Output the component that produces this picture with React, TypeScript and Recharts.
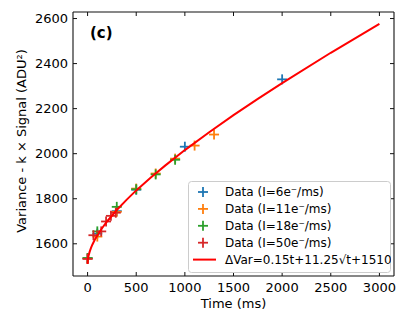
import { ScatterChart, Scatter, XAxis, YAxis, Legend } from 'recharts';

const FONT = '"DejaVu Sans", sans-serif';

// measured points, one list per illumination level
const times6 = [0, 100, 300, 500, 1000, 2000];
const var6 = [1535, 1645, 1745, 1840, 2031, 2330];

const times11 = [0, 100, 300, 500, 700, 900, 1100, 1300];
const var11 = [1535, 1632, 1742, 1845, 1912, 1978, 2036, 2085];

const times18 = [0, 100, 300, 500, 700, 900];
const var18 = [1537, 1655, 1764, 1842, 1908, 1973];

const times50 = [0, 60, 140, 190, 240, 290];
const var50 = [1533, 1638, 1655, 1699, 1724, 1738];

// fitted curve
const fitTimes = [0, 2, 5, 10, 20, 35, 50, 75, 100, 150, 200, 300, 400, 500, 650, 800, 1000, 1250, 1500, 1750, 2000, 2500, 3000];
const fitVar = [1510, 1526, 1536, 1547, 1563, 1582, 1597, 1619, 1637, 1670, 1699, 1750, 1795, 1837, 1894, 1948, 2016, 2095, 2171, 2243, 2313, 2448, 2576];

const xTicks = [0, 500, 1000, 1500, 2000, 2500, 3000];
const yTicks = [1600, 1800, 2000, 2200, 2400, 2600];

const series = [
  { name: 'Data (I=6e\u207B/ms)', color: '#1f77b4', t: times6, v: var6 },
  { name: 'Data (I=11e\u207B/ms)', color: '#ff7f0e', t: times11, v: var11 },
  { name: 'Data (I=18e\u207B/ms)', color: '#2ca02c', t: times18, v: var18 },
  { name: 'Data (I=50e\u207B/ms)', color: '#d62728', t: times50, v: var50 },
];
const fitName = 'ΔVar=0.15t+11.25√t+1510';

const toPoints = (t: number[], v: number[]) => t.map((x, i) => ({ t: x, v: v[i] }));

const AXIS = '#111';

function Plus(color: string) {
  return (props: any) => {
    const { cx, cy } = props;
    return (
      <g>
        <line x1={cx - 5} x2={cx + 5} y1={cy} y2={cy} stroke={color} strokeWidth={1.8} />
        <line x1={cx} x2={cx} y1={cy - 5} y2={cy + 5} stroke={color} strokeWidth={1.8} />
      </g>
    );
  };
}

const BottomTick = ({ x, y, payload }: any) => (
  <g>
    <line x1={x} x2={x} y1={y} y2={y - 4} stroke={AXIS} />
    <text x={x} y={y + 16} textAnchor="middle" fontSize={13} fontFamily={FONT} fill="#000">
      {payload.value}
    </text>
  </g>
);
const TopTick = ({ x, y }: any) => <line x1={x} x2={x} y1={y} y2={y + 4} stroke={AXIS} />;
const LeftTick = ({ x, y, payload }: any) => (
  <g>
    <line x1={x} x2={x + 4} y1={y} y2={y} stroke={AXIS} />
    <text x={x - 5} y={y + 4.7} textAnchor="end" fontSize={13} fontFamily={FONT} fill="#000">
      {payload.value}
    </text>
  </g>
);
const RightTick = ({ x, y }: any) => <line x1={x} x2={x - 4} y1={y} y2={y} stroke={AXIS} />;

function LegendBox() {
  const rowH = 16.9;
  return (
    <svg width={203} height={92} style={{ display: 'block' }}>
      <rect x={0.5} y={0.5} width={202} height={91} rx={3} fill="rgba(255,255,255,0.8)" stroke="#cccccc" />
      {series.map((s, i) => {
        const cy = 11 + i * rowH;
        return (
          <g key={s.name}>
            <line x1={10} x2={20} y1={cy} y2={cy} stroke={s.color} strokeWidth={1.8} />
            <line x1={15} x2={15} y1={cy - 5} y2={cy + 5} stroke={s.color} strokeWidth={1.8} />
            <text x={37} y={cy + 4.3} fontSize={12} fontFamily={FONT} fill="#000">{s.name}</text>
          </g>
        );
      })}
      <line x1={5} x2={28} y1={11 + 4 * rowH} y2={11 + 4 * rowH} stroke="#ff0000" strokeWidth={2} />
      <text x={37} y={11 + 4 * rowH + 4.3} fontSize={12} fontFamily={FONT} fill="#000">{fitName}</text>
    </svg>
  );
}

const axisCommon = {
  type: 'number' as const,
  tickSize: 0,
  tickMargin: 0,
  tickLine: false,
  axisLine: { stroke: AXIS, strokeWidth: 1.1 },
  interval: 0 as const,
  allowDataOverflow: true,
};

export default function App() {
  return (
    <div style={{ position: 'absolute', left: 0, top: 0, width: 409, height: 327, background: '#fff' }}>
      <ScatterChart width={409} height={327} margin={{ top: 11, right: 14, bottom: 50, left: 72 }}>
        <XAxis {...axisCommon} dataKey="t" xAxisId="b" domain={[-150, 3150]} ticks={xTicks} height={1} tick={BottomTick} />
        <XAxis
          {...axisCommon}
          dataKey="t"
          xAxisId="top"
          orientation="top"
          domain={[-150, 3150]}
          ticks={xTicks}
          height={1}
          tick={TopTick}
        />
        <YAxis
          {...axisCommon}
          dataKey="v"
          yAxisId="l"
          domain={[1457, 2629]}
          ticks={yTicks}
          width={1}
          tick={LeftTick}
          label={{
            content: () => (
              <text
                x={26}
                y={141}
                transform="rotate(-90 26 141)"
                textAnchor="middle"
                fontSize={13}
                fontFamily={FONT}
                fill="#000"
              >
                Variance - k × Signal (ADU²)
              </text>
            ),
          }}
        />
        <YAxis
          {...axisCommon}
          dataKey="v"
          yAxisId="r"
          orientation="right"
          domain={[1457, 2629]}
          ticks={yTicks}
          width={1}
          tick={RightTick}
        />
        {series.map(s => (
          <Scatter
            key={s.name}
            name={s.name}
            data={toPoints(s.t, s.v)}
            xAxisId="b"
            yAxisId="l"
            shape={Plus(s.color)}
            isAnimationActive={false}
          />
        ))}
        <Scatter
          name={fitName}
          data={toPoints(fitTimes, fitVar)}
          xAxisId="b"
          yAxisId="l"
          line={{ stroke: '#ff0000', strokeWidth: 2 }}
          lineType="joint"
          shape={() => <g />}
          isAnimationActive={false}
        />
        <Legend
          layout="horizontal"
          verticalAlign="middle"
          content={() => <LegendBox />}
          wrapperStyle={{ left: 188, top: 181, width: 203, height: 92 }}
        />
      </ScatterChart>
      <div
        style={{
          position: 'absolute',
          left: 90,
          top: 25,
          fontFamily: FONT,
          fontWeight: 'bold',
          fontSize: 15,
          lineHeight: '16px',
          color: '#000',
        }}
      >
        (c)
      </div>
      <div
        style={{
          position: 'absolute',
          left: 0,
          width: 467,
          top: 296,
          textAlign: 'center',
          fontFamily: FONT,
          fontSize: 13,
          lineHeight: '16px',
          color: '#000',
        }}
      >
        Time (ms)
      </div>
    </div>
  );
}
